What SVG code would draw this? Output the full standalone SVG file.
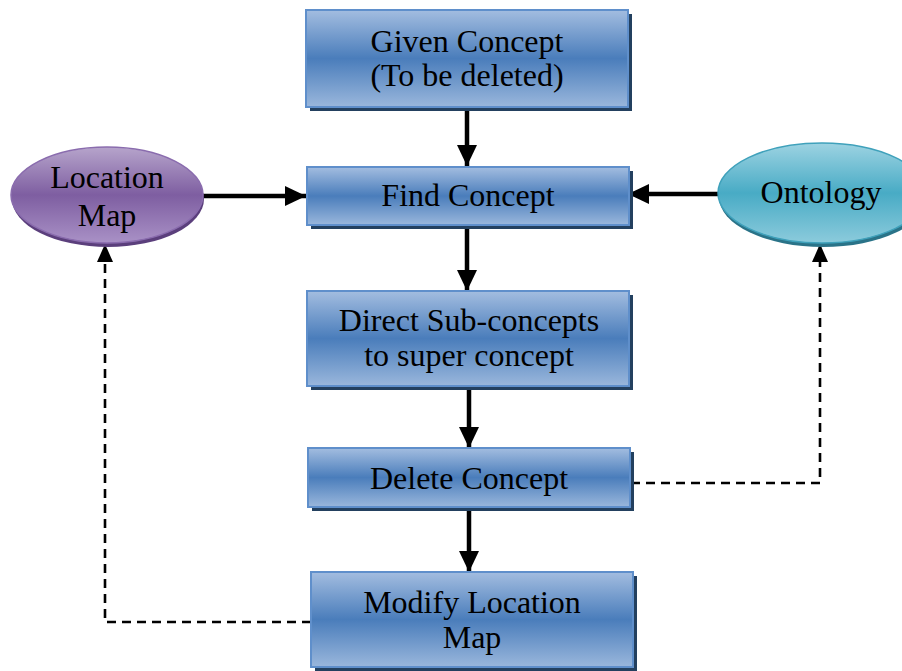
<svg xmlns="http://www.w3.org/2000/svg" width="902" height="671" viewBox="0 0 902 671">
  <defs>
    <linearGradient id="boxFill" x1="0" y1="0" x2="0" y2="1">
      <stop offset="0" stop-color="#a3bde0"/>
      <stop offset="0.5" stop-color="#4a7dbb"/>
      <stop offset="1" stop-color="#9ab7dc"/>
    </linearGradient>
    <linearGradient id="purpleFill" x1="0" y1="0" x2="0" y2="1">
      <stop offset="0" stop-color="#b6a4cb"/>
      <stop offset="0.5" stop-color="#7e5ea1"/>
      <stop offset="1" stop-color="#a991c6"/>
    </linearGradient>
    <linearGradient id="tealFill" x1="0" y1="0" x2="0" y2="1">
      <stop offset="0" stop-color="#9dd3e2"/>
      <stop offset="0.5" stop-color="#48abc5"/>
      <stop offset="1" stop-color="#8ccbdc"/>
    </linearGradient>
    <marker id="solidHead" markerUnits="userSpaceOnUse" markerWidth="22" markerHeight="22" viewBox="0 0 22 22" refX="21" refY="11" orient="auto">
      <path d="M0,1 L21,11 L0,21 Z" fill="#000"/>
    </marker>
    <marker id="dashHead" markerUnits="userSpaceOnUse" markerWidth="18" markerHeight="18" viewBox="0 0 18 18" refX="18" refY="9" orient="auto">
      <path d="M0,1 L18,9 L0,17 Z" fill="#000"/>
    </marker>
  </defs>
  <style>
    .shadow { fill: #23405f; }
    .box { fill: url(#boxFill); stroke: #5f8fcb; stroke-width: 2; }
    .label { font-family: "Liberation Serif", "Times New Roman", serif; font-size: 32px; fill: #000; text-anchor: middle; }
    .solid { stroke: #000; stroke-width: 4.5; fill: none; marker-end: url(#solidHead); }
    .dashed { stroke: #000; stroke-width: 2.6; fill: none; stroke-dasharray: 9 6; marker-end: url(#dashHead); }
  </style>

  <!-- connectors -->
  <g id="connectors">
    <line class="solid" x1="467" y1="108" x2="467" y2="166"/>
    <line class="solid" x1="467" y1="226" x2="467" y2="291"/>
    <line class="solid" x1="469" y1="388" x2="469" y2="448"/>
    <line class="solid" x1="469" y1="509" x2="469" y2="572"/>
    <line class="solid" x1="203" y1="196" x2="306" y2="196"/>
    <line class="solid" x1="719" y1="194" x2="628" y2="194"/>
    <polyline class="dashed" points="631,483 820,483 820,244"/>
    <polyline class="dashed" points="311,622 105,622 105,244"/>
  </g>

  <!-- process boxes -->
  <g id="given-concept">
    <rect class="shadow" x="310" y="14" width="322" height="97"/>
    <rect class="box" x="306" y="10" width="322" height="97"/>
    <text class="label" x="467" y="52">Given Concept</text>
    <text class="label" x="467" y="86">(To be deleted)</text>
  </g>

  <g id="find-concept">
    <rect class="shadow" x="311" y="171" width="322" height="58"/>
    <rect class="box" x="307" y="167" width="322" height="58"/>
    <text class="label" x="468" y="206">Find Concept</text>
  </g>

  <g id="direct-sub-concepts">
    <rect class="shadow" x="311" y="295" width="322" height="95"/>
    <rect class="box" x="307" y="291" width="322" height="95"/>
    <text class="label" x="469" y="331">Direct Sub-concepts</text>
    <text class="label" x="469" y="366">to super concept</text>
  </g>

  <g id="delete-concept">
    <rect class="shadow" x="312" y="452" width="322" height="59"/>
    <rect class="box" x="308" y="448" width="322" height="59"/>
    <text class="label" x="469" y="489">Delete Concept</text>
  </g>

  <g id="modify-location-map">
    <rect class="shadow" x="315" y="576" width="322" height="96"/>
    <rect class="box" x="311" y="572" width="322" height="95"/>
    <text class="label" x="472" y="613">Modify Location</text>
    <text class="label" x="472" y="648">Map</text>
  </g>

  <!-- data sources -->
  <g id="location-map">
    <ellipse cx="108" cy="199" rx="96" ry="48" fill="#5b3f7c"/>
    <ellipse cx="107" cy="195" rx="96" ry="48" fill="url(#purpleFill)" stroke="#8a6cae" stroke-width="1.5"/>
    <text class="label" x="107" y="188">Location</text>
    <text class="label" x="107" y="226">Map</text>
  </g>

  <g id="ontology">
    <ellipse cx="823" cy="197" rx="104" ry="50" fill="#2a7388"/>
    <ellipse cx="822" cy="193" rx="104" ry="50" fill="url(#tealFill)" stroke="#3fa1bb" stroke-width="1.5"/>
    <text class="label" x="821" y="203">Ontology</text>
  </g>
</svg>
